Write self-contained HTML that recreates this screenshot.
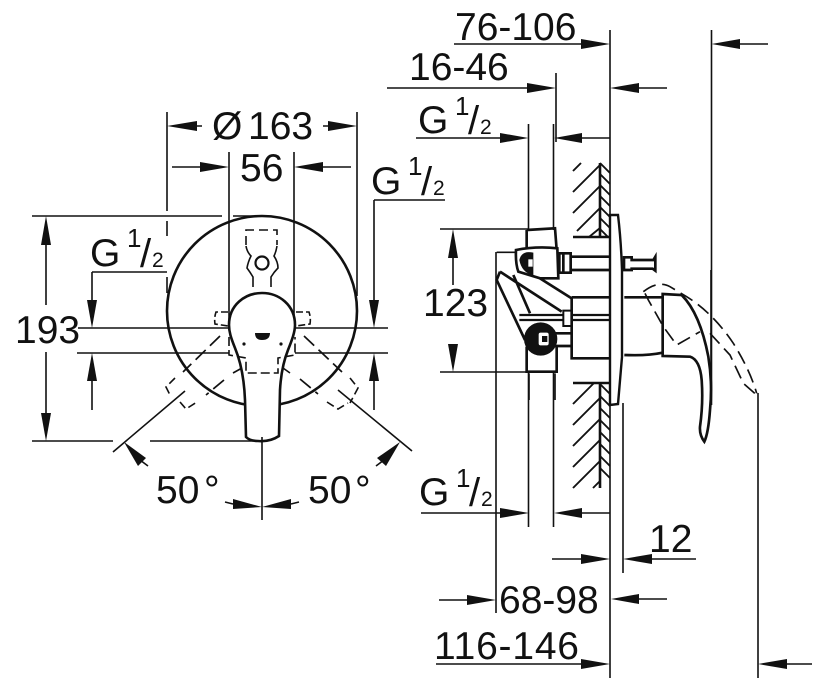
<!DOCTYPE html>
<html><head><meta charset="utf-8"><style>
html,body{margin:0;padding:0;background:#fff;width:822px;height:692px;overflow:hidden}
svg{display:block}
text{font-family:"Liberation Sans",sans-serif;fill:#111;stroke:none}
.t{font-size:39px}.s1{font-size:26px}.s2{font-size:21px}.sl{font-size:40px}
.l{stroke:#111;stroke-width:1.6;fill:none}
.m{stroke:#111;stroke-width:2.6;fill:none}
.h{stroke:#111;stroke-width:1.9;fill:none}
.d{stroke:#111;stroke-width:1.7;fill:none;stroke-dasharray:14 6}
.d2{stroke:#111;stroke-width:1.6;fill:none;stroke-dasharray:9 5}
polygon{fill:#111;stroke:none}
</style></head><body>
<svg width="822" height="692" viewBox="0 0 822 692" xmlns="http://www.w3.org/2000/svg">
<!-- LEFT VIEW -->
<circle cx="262" cy="311" r="95" class="m"/>
<path class="l" d="M167 112V211M167 221V236M167 277V293M357 112V296M229 152V328M294 152V328"/>
<path class="l" d="M32 216H222M233 216H262"/>
<path class="l" d="M197 126H202M323 126H328M172 167H200M323 167H351"/>
<polygon points="167,126 197,121 197,131"/><polygon points="357,126 328,121 328,131"/>
<polygon points="229,167 200,162 200,172"/><polygon points="294,167 323,162 323,172"/>
<path class="l" d="M46 245V305M46 352V413M32 441H113M150 441H262"/>
<polygon points="46,216 41,245 51,245"/><polygon points="46,441 41,413 51,413"/>
<path class="l" d="M92 272H167M92 272V300M374 200H445M374 200V300"/>
<polygon points="92,328 87,300 97,300"/><polygon points="374,328 369,300 379,300"/>
<path class="l" d="M78 328H229M294 328H388M77 353H229M295 353H388M92 381V410M374 381V410"/>
<polygon points="92,353 87,381 97,381"/><polygon points="374,353 369,381 379,381"/>
<!-- dashed rotated levers -->
<path class="d" d="M220 336L183 372M224 380L206 395M304 336L342 372M300 379L318 394"/>
<path class="l" d="M242 368L233 373M283 368L290 373"/>
<path class="l" stroke-dasharray="8 4" d="M175 378L166 387L171 397M180 402L186 409L197 402M350 378L358 388L350 403M327 402L338 409L348 403"/>
<path class="l" d="M185 391L113 452M338 390L412 451"/>
<polygon points="124,442 146,458 138,466"/><polygon points="400,442 386,466 377,458"/>
<path class="l" d="M140 460L148 466M384 460L376 466"/>
<!-- top dashed lever -->
<path class="d2" d="M246 245V230H277V245"/>
<path class="l" d="M246 246Q247 252 251 256Q248 262 247 268Q250 272 253 277V287M277 246Q276 252 274 256Q278 262 278 268Q274 272 271 277V287"/>
<circle cx="262" cy="263" r="6.5" stroke="#111" stroke-width="2.2" fill="#fff"/>
<path class="l" d="M253 297V305L233 318M271 297V305L291 318"/>
<path class="l" stroke-dasharray="7 3" d="M228 312H216Q214 318 215 324L228 326M296 312H309Q311 318 310 324L296 326"/>
<!-- handle -->
<path d="M246 437L245 400C244 375 240 360 235 348C231 338 229 332 229 325C229 305 245 293 262 293C279 293 295 305 295 325C295 332 292 340 288 350C284 360 281 372 280 390L279 436Q270 442 258 441Q250 441 246 437Z" fill="#fff" stroke="#111" stroke-width="2.6"/>
<path class="l" d="M229 337V355L246 358V373H278V358L295 355V337" stroke-dasharray="9 4"/>
<path d="M255 333H270Q270 340 262 340Q255 340 255 333Z" fill="#111"/>
<circle cx="244" cy="344" r="1.6" fill="#111"/><circle cx="281" cy="344" r="1.6" fill="#111"/>
<path class="l" d="M262 437V520M225 502L233 504M299 502L291 504"/>
<polygon points="262,507 233,499 233,509"/><polygon points="262,507 291,499 291,509"/>
<!-- left labels -->
<text class="t" x="212" y="139">Ø</text><text class="t" x="248" y="139">163</text>
<text class="t" x="240" y="181">56</text>
<text class="t" x="15" y="343">193</text>
<text class="t" x="156" y="503">50</text><text class="t" x="204" y="503">°</text>
<text class="t" x="308" y="503">50</text><text class="t" x="355" y="503">°</text>
<text class="t" x="90" y="266">G</text><text class="s1" x="127" y="247">1</text><text class="sl" x="140" y="267">/</text><text class="s2" x="152" y="267">2</text>
<text class="t" x="371" y="194">G</text><text class="s1" x="408" y="175">1</text><text class="sl" x="421" y="195">/</text><text class="s2" x="433" y="195">2</text>
<!-- RIGHT VIEW dimensions -->
<path class="l" d="M610 30V678M711.5 30V405M758 393V678M556 73V142M454 44H581M740 44H768M387 88H527M639 88H667"/>
<polygon points="610,44 581,39 581,49"/><polygon points="711.5,44 740,39 740,49"/>
<polygon points="556,88 527,83 527,93"/><polygon points="610,88 639,83 639,93"/>
<path class="l" d="M416 138H500M582 138H610M528.5 124V230M553.5 124V230"/>
<polygon points="528.5,138 500,133 500,143"/><polygon points="554,138 582,133 582,143"/>
<path class="l" d="M440 229H528M440 372H528M453 258V285"/>
<polygon points="453,229 448,258 458,258"/><polygon points="453,372 448,344 458,344"/>
<path class="l" d="M496 252V613M528.5 372V527M553.5 372V527M421 513H500M582 513H610M623 403V573"/>
<polygon points="529,513 500,508 500,518"/><polygon points="554,513 582,508 582,518"/>
<path class="l" d="M552 559H581M652 559H696M439 600H467M639 599H667M436 664H581M787 664H812"/>
<polygon points="610,559 581,554 581,564"/><polygon points="623,559 652,554 652,564"/>
<polygon points="496,600 467,595 467,605"/><polygon points="611,599 639,594 639,604"/>
<polygon points="610,664 581,659 581,669"/><polygon points="758,664 787,659 787,669"/>
<!-- hatch -->
<path class="m" d="M600 163V237M600 383V488M573 237H609M573 383H609"/>
<path class="h" d="M573 171L581 163M573 192L600 165M573 213L600 186M577 231L600 208M589 237L600 228M573 404L594 383M573 425L600 398M573 446L600 419M573 467L600 440M573 488L600 461M593 488L600 481M600 163L610 173M600 174L610 184M600 185L610 195M600 196L610 206M600 207L610 217M600 218L610 228M600 229L608 237M600 384L610 394M600 396L610 406M600 408L610 418M600 420L610 430M600 432L610 442M600 444L610 454M600 456L610 466M600 468L610 478"/>
<!-- plate -->
<path d="M610 215H618Q621 240 622 270V357L618 404L610 405Z" fill="#fff" stroke="#111" stroke-width="2.4"/>
<!-- mechanism, coordinates from 3x crop -->
<g transform="translate(480,200) scale(.33333)">
<g fill="none" stroke="#111" stroke-width="8">
<path d="M140 90L225 85L230 150M140 90V145"/>
<path d="M50 157H108" stroke-width="5"/>
<path d="M108 150Q170 138 232 145L235 235H180L115 215Q106 190 108 150Z" fill="#fff"/>
<path d="M238 160H272V218H238Z" fill="#fff"/>
<path d="M250 160V218"/>
<path d="M272 170H388M272 210H388"/>
<path d="M432 172H455V180H520L526 170V212L518 206H455V210H432Z" fill="#fff"/>
<path d="M60 215L50 240L135 420M60 215L245 335M100 225L150 340M180 235L275 295"/>
<path d="M275 292H388M275 292V475H388"/>
<path d="M118 345H250M118 360H250M275 345H388M275 360H388" stroke-width="7"/>
<path d="M250 332H274V378H250Z" fill="#fff" stroke-width="6"/>
<path d="M205 400H275M205 438H275"/>
<path d="M140 440V515H230V440"/>
<path d="M147 520V600M225 520V600" stroke-width="5"/>
<path d="M433 292H548L546 292M433 465Q500 468 548 458" />
</g>
<path d="M118 180Q125 150 160 158V226Q125 218 118 180Z" fill="#111"/>
<path d="M145 178H158V200H145Z" fill="#fff"/>
<circle cx="182" cy="417" r="50" fill="#111"/>
<rect x="176" y="398" width="30" height="38" rx="6" fill="#fff"/>
<rect x="186" y="408" width="16" height="18" fill="#111"/>
</g>
<!-- side lever -->
<g transform="translate(600,270) scale(.33333)">
<path d="M188 72L245 75Q300 130 325 260Q338 340 330 420Q325 490 313 515Q298 495 300 470Q310 400 305 330Q300 270 270 260L188 258Z" fill="#fff" stroke="#111" stroke-width="8"/>
<path d="M130 65Q175 30 210 50L260 80Q340 130 400 220Q450 300 470 370" fill="none" stroke="#111" stroke-width="5" stroke-dasharray="42 20"/>
<path d="M135 70L145 90L190 170L230 225L300 185M330 190L390 255L430 340L470 375" fill="none" stroke="#111" stroke-width="5" stroke-dasharray="42 20"/>
<path d="M333 0V405" stroke="#111" stroke-width="5" fill="none"/>
</g>
<!-- right labels -->
<text class="t" x="455" y="40">76-106</text>
<text class="t" x="409" y="80">16-46</text>
<text class="t" x="423" y="316">123</text>
<text class="t" x="649" y="552">12</text>
<text class="t" x="499" y="613">68-98</text>
<text class="t" x="434" y="659" textLength="145" lengthAdjust="spacing">116-146</text>
<text class="t" x="418" y="133">G</text><text class="s1" x="455" y="115">1</text><text class="sl" x="468" y="134">/</text><text class="s2" x="480" y="134">2</text>
<text class="t" x="419" y="505">G</text><text class="s1" x="456" y="487">1</text><text class="sl" x="469" y="506">/</text><text class="s2" x="481" y="506">2</text>
</svg>
</body></html>
